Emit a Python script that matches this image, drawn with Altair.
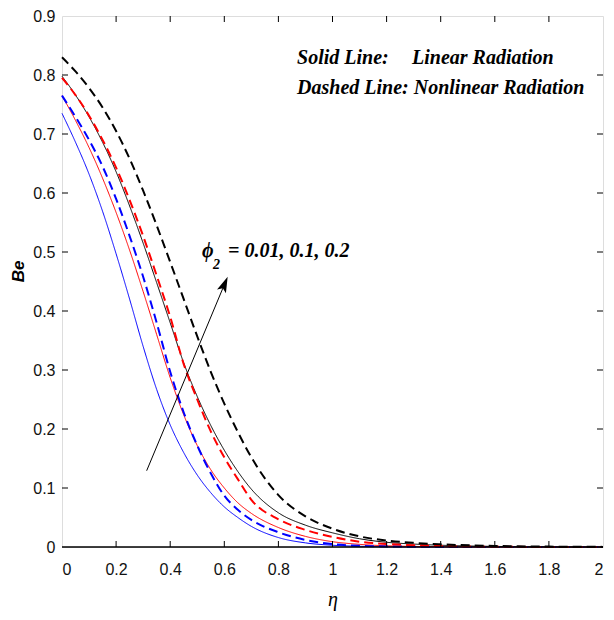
import altair as alt
import pandas as pd

# ---- data ----
eta = [0, 0.05, 0.1, 0.15, 0.2, 0.25, 0.3, 0.35, 0.4, 0.45, 0.5, 0.55, 0.6, 0.65, 0.7,
       0.8, 0.9, 1.0, 1.1, 1.2, 1.3, 1.4, 1.6, 1.8, 2.0]

be_lin_001 = [0.735, 0.686, 0.632, 0.569, 0.497, 0.420, 0.340, 0.267, 0.207, 0.160, 0.122, 0.092, 0.068,
              0.050, 0.035, 0.016, 0.007, 0.003, 0.0012, 0.0005, 0.0002, 0.0001, 0, 0, 0]
be_lin_01 = [0.765, 0.723, 0.677, 0.625, 0.567, 0.503, 0.433, 0.360, 0.287, 0.224, 0.172, 0.131, 0.100,
             0.075, 0.057, 0.033, 0.018, 0.009, 0.0045, 0.002, 0.001, 0.0005, 0.0001, 0, 0]
be_lin_02 = [0.798, 0.766, 0.729, 0.686, 0.636, 0.578, 0.515, 0.448, 0.380, 0.312, 0.255, 0.206, 0.164,
             0.128, 0.098, 0.058, 0.037, 0.024, 0.014, 0.008, 0.005, 0.003, 0.001, 0.0003, 0]
be_non_001 = [0.765, 0.729, 0.690, 0.645, 0.590, 0.527, 0.458, 0.380, 0.297, 0.228, 0.172, 0.125, 0.087,
              0.063, 0.046, 0.025, 0.012, 0.005, 0.002, 0.001, 0.0005, 0.0002, 0, 0, 0]
be_non_01 = [0.795, 0.766, 0.731, 0.690, 0.643, 0.588, 0.527, 0.460, 0.390, 0.310, 0.250, 0.196, 0.152,
             0.115, 0.080, 0.047, 0.029, 0.017, 0.009, 0.005, 0.003, 0.0015, 0.0005, 0.0001, 0]
be_non_02 = [0.830, 0.806, 0.778, 0.745, 0.705, 0.658, 0.604, 0.545, 0.483, 0.420, 0.357, 0.297, 0.243,
             0.195, 0.152, 0.088, 0.052, 0.031, 0.018, 0.011, 0.007, 0.0045, 0.0018, 0.0007, 0.0002]

phi_values = ["0.01", "0.1", "0.2"]
series_colors = ["#0000ff", "#ff0000", "#000000"]
radiation = ["Linear", "Nonlinear"]

x_ticks = [0, 0.2, 0.4, 0.6, 0.8, 1, 1.2, 1.4, 1.6, 1.8, 2]
y_ticks = [0, 0.1, 0.2, 0.3, 0.4, 0.5, 0.6, 0.7, 0.8, 0.9]
x_inner_ticks = [0.2, 0.4, 0.6, 0.8, 1, 1.2, 1.4, 1.6, 1.8]
y_inner_ticks = [0.1, 0.2, 0.3, 0.4, 0.5, 0.6, 0.7, 0.8]

note_text = ["Solid Line:", "Linear Radiation", "Dashed Line: Nonlinear Radiation"]
note_eta = [0.869, 1.294, 0.869]
note_be = [0.8186, 0.8186, 0.7678]

phi_text = ["\u03d5", "= 0.01, 0.1, 0.2"]
phi_eta = [0.5176, 0.6137]
phi_be = [0.4915, 0.4915]
sub_text = ["2"]
sub_eta = [0.558]
sub_be = [0.4712]

arrow_eta = [0.313, 0.601]
arrow_be = [0.1293, 0.4456]
head_eta = [0.601]
head_be = [0.4456]

# ---- build tables ----
rows = []
curves = [
    ("0.01", "Linear", be_lin_001), ("0.1", "Linear", be_lin_01), ("0.2", "Linear", be_lin_02),
    ("0.01", "Nonlinear", be_non_001), ("0.1", "Nonlinear", be_non_01), ("0.2", "Nonlinear", be_non_02),
]
for phi, rad, vals in curves:
    for e, v in zip(eta, vals):
        rows.append({"eta": e, "be": v, "phi": phi, "rad": rad, "key": phi + rad})
df = pd.DataFrame(rows)

W, H = 541, 531
xs = alt.Scale(domain=[0, 2], nice=False, zero=False)
ys = alt.Scale(domain=[0, 0.9], nice=False, zero=False)

x_axis = alt.Axis(values=x_ticks, title="\u03b7", grid=False, ticks=False, domain=False,
                  labelExpr="datum.value == 2 ? '2\u00a0' : format(datum.value, '~g')",
                  labelFont="Liberation Sans", labelFontSize=16, labelColor="#111",
                  labelPadding=14, titleFont="Liberation Serif", titleFontStyle="italic",
                  titleFontWeight="normal", titleFontSize=20, titlePadding=12, titleColor="black")
y_axis = alt.Axis(values=y_ticks, format="~g", title="Be", grid=False, ticks=False, domain=False,
                  labelFont="Liberation Sans", labelFontSize=16, labelColor="#111",
                  labelPadding=7, titleFont="Liberation Sans", titleFontStyle="italic",
                  titleFontWeight="bold", titleFontSize=17, titleX=-35, titleY=255,
                  titleColor="black")


def X():
    return alt.X("eta:Q", scale=xs, axis=x_axis)


def Y():
    return alt.Y("be:Q", scale=ys, axis=y_axis)


lines = alt.Chart(df).mark_line(interpolate="monotone").encode(
    x=X(), y=Y(),
    color=alt.Color("phi:N", scale=alt.Scale(domain=phi_values, range=series_colors), legend=None),
    strokeDash=alt.StrokeDash("rad:N", scale=alt.Scale(domain=radiation, range=[[1, 0], [9, 5]]), legend=None),
    strokeWidth=alt.StrokeWidth("rad:N", scale=alt.Scale(domain=radiation, range=[1, 2]), legend=None),
    detail="key:N",
)

xt = pd.DataFrame({"eta": x_inner_ticks})
yt = pd.DataFrame({"be": y_inner_ticks})
tick_bottom = alt.Chart(xt).mark_rule(color="black", strokeWidth=1).encode(
    x=X(), y=alt.value(H), y2=alt.value(H - 6))
tick_top = alt.Chart(xt).mark_rule(color="black", strokeWidth=1).encode(
    x=X(), y=alt.value(0), y2=alt.value(6))
tick_left = alt.Chart(yt).mark_rule(color="black", strokeWidth=1).encode(
    y=Y(), x=alt.value(0), x2=alt.value(6))
tick_right = alt.Chart(yt).mark_rule(color="black", strokeWidth=1).encode(
    y=Y(), x=alt.value(W), x2=alt.value(W - 6))

bottom_line = alt.Chart(pd.DataFrame({"be": [0]})).mark_rule(color="black", strokeWidth=1.6).encode(
    y=Y(), x=alt.value(0), x2=alt.value(W))

arrow_df = pd.DataFrame({"eta": arrow_eta, "be": arrow_be})
arrow = alt.Chart(arrow_df).mark_line(color="black", strokeWidth=1).encode(x=X(), y=Y())
head = alt.Chart(pd.DataFrame({"eta": head_eta, "be": head_be})).mark_point(
    shape="M0,-1L0.6,1L0,0.55L-0.6,1Z", size=256, filled=True, color="black", opacity=1,
    angle=22.7, strokeWidth=0).encode(x=X(), y=Y())

notes = alt.Chart(pd.DataFrame({"eta": note_eta, "be": note_be, "t": note_text})).mark_text(
    align="left", baseline="alphabetic", font="Liberation Serif", fontStyle="italic",
    fontWeight="bold", fontSize=20, color="black").encode(x=X(), y=Y(), text="t:N")

phi_lbl = alt.Chart(pd.DataFrame({"eta": phi_eta, "be": phi_be, "t": phi_text})).mark_text(
    align="left", baseline="alphabetic", font="Liberation Serif", fontStyle="italic",
    fontWeight="bold", fontSize=20, color="black").encode(x=X(), y=Y(), text="t:N")
sub_lbl = alt.Chart(pd.DataFrame({"eta": sub_eta, "be": sub_be, "t": sub_text})).mark_text(
    align="left", baseline="alphabetic", font="Liberation Serif", fontStyle="italic",
    fontWeight="bold", fontSize=14, color="black").encode(x=X(), y=Y(), text="t:N")

chart = alt.layer(
    lines, tick_bottom, tick_top, tick_left, tick_right, bottom_line, arrow, head, notes, phi_lbl, sub_lbl
).properties(
    width=W, height=H,
    autosize=alt.AutoSizeParams(type="none"),
    padding={"left": 54, "top": 8, "right": 3, "bottom": 65},
).configure_view(stroke="black", strokeWidth=1.1).configure(background="white")

chart.save("out.html", embed_options={"renderer": "svg", "actions": False})
